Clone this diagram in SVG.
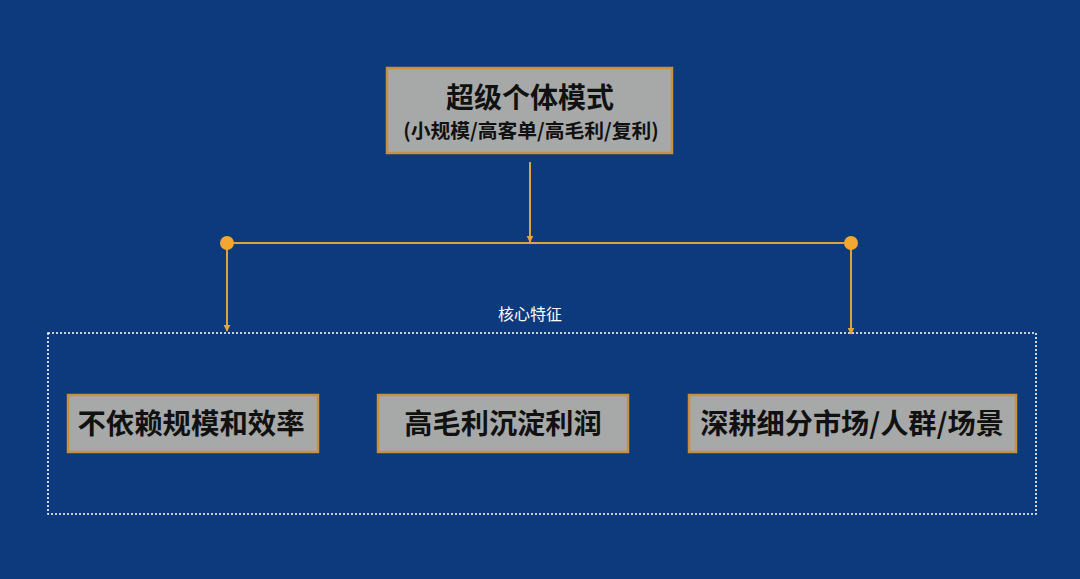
<svg xmlns="http://www.w3.org/2000/svg" width="1080" height="579" viewBox="0 0 1080 579">
<defs>
<style>
.box{fill:#A7A9A9;stroke:#C8913C;stroke-width:2.5}
.t{font-family:"Noto Sans CJK SC","Noto Sans",sans-serif;font-weight:bold;fill:#111;text-anchor:middle}
.ln{stroke:#D9A443;stroke-width:2;fill:none}
</style>
<marker id="ah" viewBox="0 0 10 10" refX="9" refY="5" markerWidth="7" markerHeight="7" orient="auto" markerUnits="userSpaceOnUse">
<path d="M0,0 L10,5 L0,10 z" fill="#E3A63D"/>
</marker>
</defs>
<rect width="1080" height="579" fill="#0C3A7D"/>
<g id="container">
<rect x="48" y="333" width="988" height="181" fill="none" stroke="#FFFFFF" stroke-width="1.6" stroke-dasharray="2 2"/>
<text x="530" y="320" font-family="'Noto Sans CJK SC','Noto Sans',sans-serif" font-size="16" fill="#FFFFFF" text-anchor="middle">核心特征</text>
</g>
<g id="connectors">
<line class="ln" x1="530" y1="162" x2="530" y2="242" marker-end="url(#ah)"/>
<line class="ln" x1="227" y1="243" x2="851" y2="243"/>
<line class="ln" x1="227" y1="243" x2="227" y2="331" marker-end="url(#ah)"/>
<line class="ln" x1="851" y1="243" x2="851" y2="334" marker-end="url(#ah)"/>
<circle cx="227" cy="243" r="7" fill="#F0A832"/>
<circle cx="851" cy="243" r="7" fill="#F0A832"/>
</g>
<g id="top">
<rect class="box" x="387" y="68" width="285" height="85"/>
<text class="t" x="530" y="108" font-size="28">超级个体模式</text>
<text class="t" x="531" y="138" font-size="19.8">(小规模/高客单/高毛利/复利)</text>
</g>
<g id="n1">
<rect class="box" x="68" y="395" width="250" height="57"/>
<text class="t" x="191" y="434" font-size="28.4">不依赖规模和效率</text>
</g>
<g id="n2">
<rect class="box" x="378" y="395" width="250" height="57"/>
<text class="t" x="503" y="434" font-size="28.2">高毛利沉淀利润</text>
</g>
<g id="n3">
<rect class="box" x="689" y="395" width="327" height="57"/>
<text class="t" x="852" y="434" font-size="28.2">深耕细分市场/人群/场景</text>
</g>
</svg>
